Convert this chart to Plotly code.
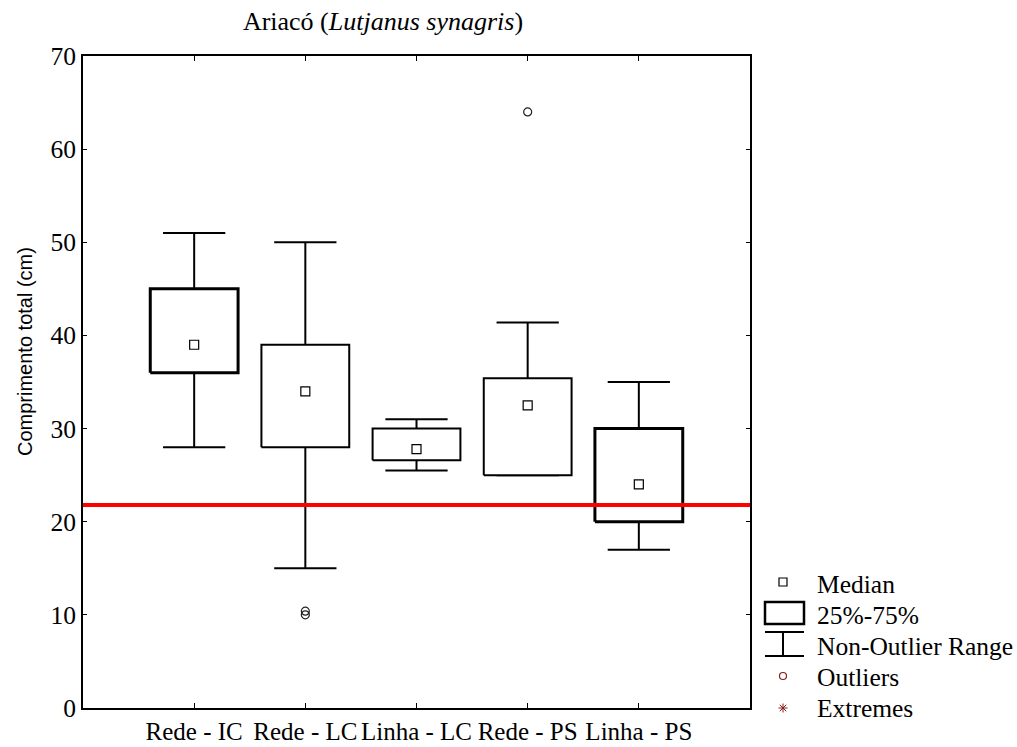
import plotly.graph_objects as go

# Ariacó (Lutjanus synagris) - total length by gear / site
categories = ["Rede - IC", "Rede - LC", "Linha - LC", "Rede - PS", "Linha - PS"]
whisker_low = [28, 15, 25.5, 25, 17]
q1 = [36, 28, 26.6, 25, 20]
median = [39, 34, 27.8, 32.5, 24]
q3 = [45, 39, 30, 35.4, 30]
whisker_high = [51, 50, 31, 41.4, 35]
outlier_cat = ["Rede - LC", "Rede - LC", "Rede - PS"]
outlier_val = [10, 10.4, 64]
reference_length = 21.8

y_ticks = [0, 10, 20, 30, 40, 50, 60, 70]

# drawing style
box_line_widths = [3, 2, 2, 2, 3]
BOX_HALF = 0.395
CAP_HALF = 0.28
SERIF = "Liberation Serif, Times New Roman, serif"
SANS = "Liberation Sans, Arial, sans-serif"

W, H = 1017, 747
L, R, T, B = 83, 267, 56, 39
PW, PH = W - L - R, H - T - B


def px(x):
    return (x - L) / PW


def py(y):
    return (H - B - y) / PH


pos = {c: i + 1 for i, c in enumerate(categories)}

fig = go.Figure()

# whiskers and caps
wx, wy = [], []
for c, lo, a, b, hi in zip(categories, whisker_low, q1, q3, whisker_high):
    i = pos[c]
    wx += [i, i, None, i, i, None,
           i - CAP_HALF, i + CAP_HALF, None, i - CAP_HALF, i + CAP_HALF, None]
    wy += [lo, a, None, b, hi, None, lo, lo, None, hi, hi, None]
fig.add_trace(go.Scatter(x=wx, y=wy, mode="lines",
                         line=dict(color="black", width=2),
                         hoverinfo="skip", showlegend=False))

# 25%-75% boxes
for c, a, b, lw in zip(categories, q1, q3, box_line_widths):
    i = pos[c]
    fig.add_trace(go.Scatter(
        x=[i - BOX_HALF, i + BOX_HALF, i + BOX_HALF, i - BOX_HALF, i - BOX_HALF],
        y=[a, a, b, b, a], mode="lines", fill="toself", fillcolor="white",
        line=dict(color="black", width=lw), hoverinfo="skip", showlegend=False))

# medians
fig.add_trace(go.Scatter(x=[pos[c] for c in categories], y=median, mode="markers",
                         marker=dict(symbol="square-open", size=9, color="black",
                                     line=dict(width=1.2)),
                         showlegend=False))

# outliers
fig.add_trace(go.Scatter(x=[pos[c] for c in outlier_cat], y=outlier_val, mode="markers",
                         marker=dict(symbol="circle-open", size=8, color="#222222",
                                     line=dict(width=1.2)),
                         showlegend=False))

# reference length line
fig.add_shape(type="line", xref="paper", x0=0, x1=1, yref="y",
              y0=reference_length, y1=reference_length,
              line=dict(color="#ff0000", width=4))

# legend drawn beside the plot
shapes = []
ann = []
lx, tx = 783, 815
# median square
shapes.append(dict(type="rect", xref="paper", yref="paper",
                   x0=px(lx - 4), x1=px(lx + 4), y0=py(586), y1=py(578),
                   line=dict(color="black", width=1.2)))
# box
shapes.append(dict(type="rect", xref="paper", yref="paper",
                   x0=px(765), x1=px(804), y0=py(624), y1=py(602),
                   line=dict(color="black", width=2.5)))
# whisker
for (x0, y0, x1, y1) in [(765, 632, 804, 632), (765, 656, 804, 656), (lx, 632, lx, 656)]:
    shapes.append(dict(type="line", xref="paper", yref="paper",
                       x0=px(x0), y0=py(y0), x1=px(x1), y1=py(y1),
                       line=dict(color="black", width=2)))
# outlier circle
shapes.append(dict(type="circle", xref="paper", yref="paper",
                   x0=px(lx - 3.5), x1=px(lx + 3.5), y0=py(679.5), y1=py(672.5),
                   line=dict(color="#8b1a1a", width=1.2)))
# extremes asterisk
cx, cy, r = lx, 708, 4.5
for (dx, dy) in [(0, 1), (1, 0), (0.72, 0.72), (0.72, -0.72)]:
    shapes.append(dict(type="line", xref="paper", yref="paper",
                       x0=px(cx - r * dx), y0=py(cy - r * dy),
                       x1=px(cx + r * dx), y1=py(cy + r * dy),
                       line=dict(color="#8b1a1a", width=1)))

legend_labels = ["Median", "25%-75%", "Non-Outlier Range", "Outliers", "Extremes"]
legend_y = [584, 615, 646, 677, 708]
for txt, yy in zip(legend_labels, legend_y):
    ann.append(dict(text=txt, xref="paper", yref="paper", x=px(tx), y=py(yy),
                    xanchor="left", yanchor="middle", showarrow=False,
                    font=dict(family=SERIF, size=25.5, color="black")))

# y axis title
ann.append(dict(text="Comprimento total (cm)", xref="paper", yref="paper",
                x=px(25), y=py(352), textangle=-90, xanchor="center", yanchor="middle",
                showarrow=False, font=dict(family=SANS, size=20, color="black")))

for s in shapes:
    fig.add_shape(**s)

fig.update_layout(
    width=W, height=H,
    margin=dict(l=L, r=R, t=T, b=B, pad=0, autoexpand=False),
    paper_bgcolor="white", plot_bgcolor="white",
    title=dict(text="Ariacó (<i>Lutjanus synagris</i>)",
               x=383 / W, xanchor="center", y=1 - 21 / H, yanchor="middle",
               font=dict(family=SERIF, size=26, color="black")),
    annotations=ann,
    showlegend=False,
    xaxis=dict(range=[0, 6], tickvals=[pos[c] for c in categories], ticktext=categories,
               tickangle=0, ticks="inside", ticklen=5, tickwidth=1, tickcolor="black",
               showline=True, linecolor="black", linewidth=2, mirror="ticks",
               showgrid=False, zeroline=False, automargin=False,
               tickfont=dict(family=SERIF, size=25, color="black")),
    yaxis=dict(range=[0, 70], tickvals=y_ticks, ticks="inside", ticklen=4, tickwidth=1,
               tickcolor="black", showline=True, linecolor="black", linewidth=2,
               mirror="ticks", showgrid=False, zeroline=False, automargin=False,
               tickfont=dict(family=SERIF, size=25.5, color="black")),
)

fig.write_html("out.html")
